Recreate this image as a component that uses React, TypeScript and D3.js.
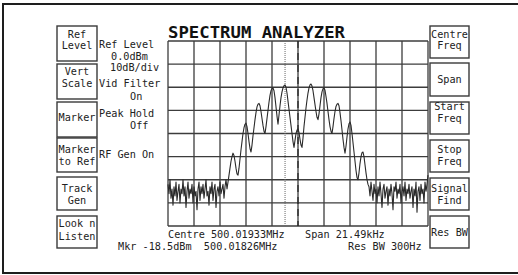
import React, { useEffect, useRef } from 'react';
import * as d3 from 'd3';

// Analyzer settings
const centreMHz = 500.01933;
const spanKHz = 21.49;
const markerMHz = 500.01826;
const refLevel = 0; // dBm, top of screen
const dbPerDiv = 10;
const vDivs = 8;
const hDivs = 10;

// Trace level in dBm, 261 bins across the span
const traceLeftNoise = [
  -62, -66, -60, -68, -64, -71, -63, -67, -61, -69,
  -65, -62, -70, -64, -66, -60, -67, -63, -72, -65,
  -61, -68, -64, -66, -62, -70, -63, -67, -65, -73,
  -64, -61, -69, -63, -66, -62, -68, -64, -60, -67,
  -65, -71, -63, -66, -61, -69, -64, -62, -72, -65,
  -63, -67, -61, -66, -64, -62, -68, -63, -60, -64,
];
const traceSignal = [
  -61, -58, -55, -52, -50, -48.5,
  -49.5, -52, -55, -57.5, -58,
  -55, -51, -47, -43.5, -40, -37.5, -36, -35.5,
  -37, -40, -43.5, -46.5, -48,
  -45, -41, -37.5, -34, -31, -28.5, -27.3, -27,
  -28, -30.5, -33.5, -36.5, -39, -40,
  -37, -33.5, -30, -26.5, -23.5, -21.5, -20.5, -20.3,
  -21.5, -24.5, -28.5, -32.5, -36,
  -32, -28, -24.5, -22, -20.3, -19.3, -19,
  -20, -22.5, -26, -29.5, -33, -36.5, -40, -43.5, -46,
  -43, -40, -38.5, -38, -39.5, -42.5, -45, -46,
  -42, -37, -33, -29, -25.5, -22.5, -20.3, -19, -18.6,
  -19.5, -21.5, -24.5, -27.5, -30.5, -33, -34,
  -31.5, -28, -24.5, -22, -20.6, -20.3,
  -21.3, -24, -27, -30.5, -34, -37, -39, -40,
  -37, -33.5, -30.5, -28.3, -27.3, -27,
  -28, -31, -34.5, -38.5, -42.5, -46, -48.5,
  -45.5, -41.5, -38, -35.8, -35,
  -36.5, -40, -44, -48, -52, -56, -59, -60,
  -57, -53, -50, -48.3, -48,
  -50, -53.5, -57, -60, -62,
];
const traceRightNoise = [
  -63, -67, -61, -65, -69, -62, -66, -64, -70, -63,
  -67, -61, -66, -72, -64, -62, -68, -65, -63, -71,
  -64, -67, -62, -66, -73, -63, -65, -61, -68, -64,
  -66, -62, -70, -65, -63, -67, -61, -69, -64, -66,
  -62, -68, -65, -63, -72, -64, -67, -61, -74, -65,
  -63, -69, -62, -66, -64, -70, -61, -65, -62, -58,
];
const trace = [...traceLeftNoise, ...traceSignal, ...traceRightNoise];

// Soft keys
const leftKeys = [
  { lines: ['Ref', 'Level'], y0: 26, y1: 61, base: [37.5, 49] },
  { lines: ['Vert', 'Scale'], y0: 64, y1: 99, base: [75, 87] },
  { lines: ['Marker'], y0: 102, y1: 137, base: [121] },
  { lines: ['Marker', 'to Ref'], y0: 138, y1: 172, base: [153, 165] },
  { lines: ['Track', 'Gen'], y0: 177, y1: 210, base: [192, 203.5] },
  { lines: ['Look n', 'Listen'], y0: 216, y1: 248, base: [227, 240] },
];
const rightKeys = [
  { lines: ['Centre', 'Freq'], y0: 26, y1: 58, base: [37.5, 49] },
  { lines: ['Span'], y0: 63, y1: 96, base: [83] },
  { lines: ['Start', 'Freq'], y0: 102, y1: 134, base: [110, 121.5] },
  { lines: ['Stop', 'Freq'], y0: 140, y1: 172, base: [153, 165] },
  { lines: ['Signal', 'Find'], y0: 178, y1: 210, base: [191.5, 203.5] },
  { lines: ['Res BW'], y0: 216, y1: 248, base: [235.5] },
];

// Status text beside the screen
const statusText = [
  { t: 'Ref Level', x: 99, y: 48 },
  { t: '0.0dBm', x: 111, y: 59.5 },
  { t: '10dB/div', x: 110, y: 71 },
  { t: 'Vid Filter', x: 99, y: 87 },
  { t: 'On', x: 130, y: 100 },
  { t: 'Peak Hold', x: 99, y: 117 },
  { t: 'Off', x: 130, y: 128.5 },
  { t: 'RF Gen On', x: 99, y: 158 },
];

const W = 518;
const H = 275;
const mono = '"DejaVu Sans Mono", "Liberation Mono", monospace';

const App: React.FC = () => {
  const svgRef = useRef<SVGSVGElement | null>(null);

  useEffect(() => {
    if (!svgRef.current) return;
    const svg = d3.select(svgRef.current);
    svg.selectAll('*').remove();

    const gx0 = 168, gx1 = 428, gy0 = 41, gy1 = 226;
    const startMHz = centreMHz - spanKHz / 2000;
    const stopMHz = centreMHz + spanKHz / 2000;

    const x = d3.scaleLinear().domain([startMHz, stopMHz]).range([gx0, gx1]);
    const y = d3.scaleLinear()
      .domain([refLevel - dbPerDiv * vDivs, refLevel])
      .range([gy1, gy0]);
    const binFreq = (i: number) => startMHz + (i * (stopMHz - startMHz)) / (trace.length - 1);

    svg.append('rect')
      .attr('width', W).attr('height', H).attr('fill', '#fff');

    // outer frame
    svg.append('rect')
      .attr('x', 3).attr('y', 4).attr('width', 530).attr('height', 269)
      .attr('fill', 'none').attr('stroke', '#1e1e1e').attr('stroke-width', 2);

    // title
    svg.append('text')
      .attr('x', gx0).attr('y', 38)
      .attr('textLength', 177).attr('lengthAdjust', 'spacingAndGlyphs')
      .style('font-family', mono).style('font-size', '16.5px').style('font-weight', 'bold')
      .attr('fill', '#111')
      .text('SPECTRUM ANALYZER');

    // graticule
    const grid = svg.append('g');
    const vTicks = d3.range(hDivs + 1).map(i => startMHz + (i * (stopMHz - startMHz)) / hDivs);
    const hTicks = d3.range(vDivs + 1).map(i => refLevel - i * dbPerDiv);
    grid.selectAll('line.v').data(vTicks).enter().append('line')
      .attr('x1', d => x(d)).attr('x2', d => x(d))
      .attr('y1', gy0).attr('y2', gy1)
      .attr('stroke', '#3c3c3c').attr('stroke-width', 1.3);
    grid.selectAll('line.h').data(hTicks).enter().append('line')
      .attr('x1', gx0).attr('x2', gx1)
      .attr('y1', d => y(d)).attr('y2', d => y(d))
      .attr('stroke', '#3c3c3c').attr('stroke-width', 1.3);

    // marker (dotted) and centre (dashed)
    svg.append('line')
      .attr('x1', x(markerMHz)).attr('x2', x(markerMHz))
      .attr('y1', gy0).attr('y2', gy1)
      .attr('stroke', '#666').attr('stroke-width', 1).attr('stroke-dasharray', '1,1');
    svg.append('line')
      .attr('x1', x(centreMHz)).attr('x2', x(centreMHz))
      .attr('y1', gy0).attr('y2', gy1)
      .attr('stroke', '#222').attr('stroke-width', 1.2).attr('stroke-dasharray', '7,5');

    // trace
    const line = d3.line<number>()
      .x((_, i) => x(binFreq(i)))
      .y(d => y(d));
    svg.append('path')
      .datum(trace)
      .attr('d', line)
      .attr('fill', 'none')
      .attr('stroke', '#2a2a2a')
      .attr('stroke-width', 1.1)
      .attr('stroke-linejoin', 'round');

    // soft keys
    const drawKeys = (keys: typeof leftKeys, x0: number, x1: number) => {
      keys.forEach(k => {
        svg.append('rect')
          .attr('x', x0).attr('y', k.y0)
          .attr('width', x1 - x0).attr('height', k.y1 - k.y0)
          .attr('fill', '#fff').attr('stroke', '#3a3a3a').attr('stroke-width', 1.4);
        k.lines.forEach((t, j) => {
          svg.append('text')
            .attr('x', (x0 + x1) / 2).attr('y', k.base[j])
            .attr('text-anchor', 'middle')
            .style('font-family', mono).style('font-size', '10.2px')
            .attr('fill', '#222')
            .text(t);
        });
      });
    };
    drawKeys(leftKeys, 57, 97);
    drawKeys(rightKeys, 430, 469);

    // status text
    svg.selectAll('text.status').data(statusText).enter().append('text')
      .attr('x', d => d.x).attr('y', d => d.y)
      .style('font-family', mono).style('font-size', '10.2px')
      .attr('fill', '#222')
      .text(d => d.t);

    // readouts under the screen
    const readouts = [
      { t: `Centre ${centreMHz.toFixed(5)}MHz`, x: gx0, y: 238 },
      { t: `Span ${spanKHz.toFixed(2)}kHz`, x: 305, y: 238 },
      { t: `Mkr -18.5dBm  ${markerMHz.toFixed(5)}MHz`, x: 118, y: 250 },
      { t: 'Res BW 300Hz', x: 348, y: 250 },
    ];
    svg.selectAll('text.readout').data(readouts).enter().append('text')
      .attr('x', d => d.x).attr('y', d => d.y)
      .attr('xml:space', 'preserve')
      .style('white-space', 'pre')
      .style('font-family', mono).style('font-size', '10.2px')
      .attr('fill', '#222')
      .text(d => d.t);
  }, []);

  return (
    <svg
      ref={svgRef}
      width={W}
      height={H}
      style={{ position: 'absolute', left: 0, top: 0 }}
    />
  );
};

export default App;
